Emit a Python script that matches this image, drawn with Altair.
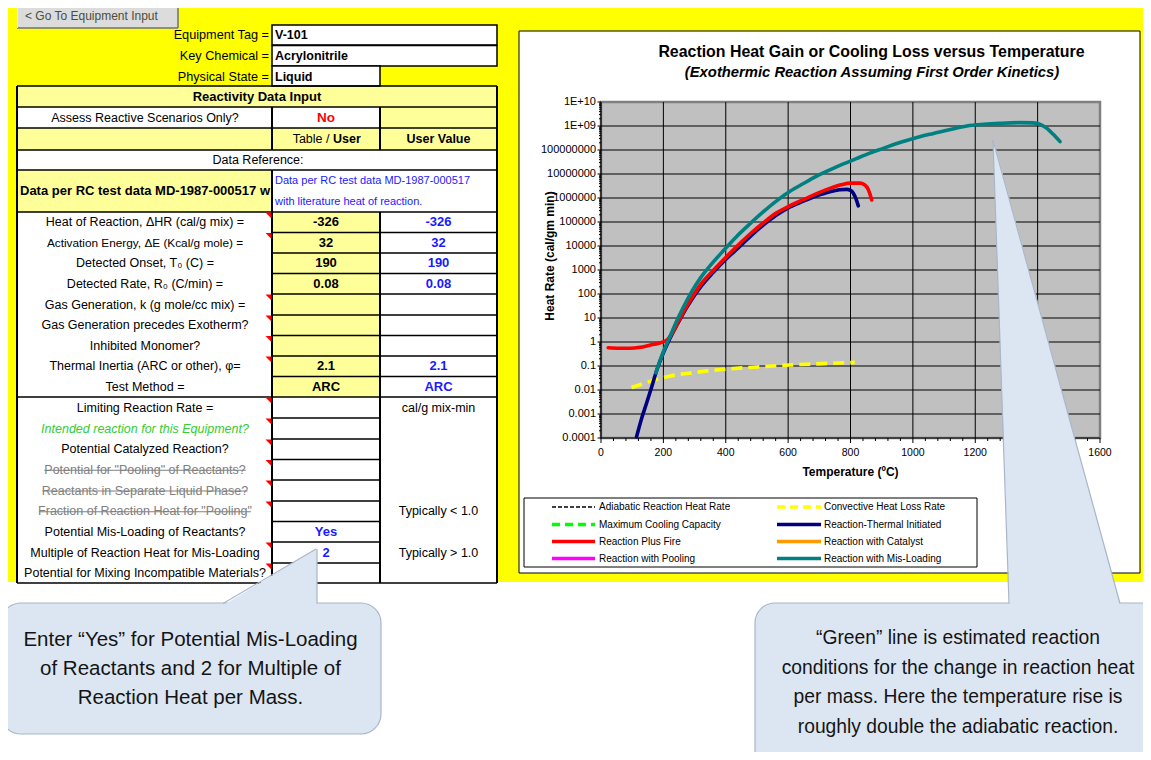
import altair as alt
import pandas as pd

W, H = 1135, 744          # canvas size (page has an 8px margin)
OX, OY = 8, 8
FONT = "Liberation Sans, Arial, Helvetica, sans-serif"

# ------------------------------------------------------------------ chart data
series_names = ["Adiabatic Reaction Heat Rate", "Convective Heat Loss Rate",
                "Maximum Cooling Capacity", "Reaction-Thermal Initiated",
                "Reaction Plus Fire", "Reaction with Catalyst",
                "Reaction with Pooling", "Reaction with Mis-Loading"]

convective_temp = [98, 125, 160, 190, 221, 300, 392, 500, 606, 710, 814]
convective_rate = [0.0126, 0.0166, 0.0234, 0.0302, 0.038, 0.0537, 0.0724, 0.0912, 0.110, 0.126, 0.141]

thermal_temp = [114, 130, 146, 163, 179, 200, 221, 243, 264, 290, 317, 360, 403, 440, 478, 520,
                563, 606, 649, 690, 734, 765, 788, 800, 809, 818, 825]
thermal_rate = [1.12e-4, 6.3e-4, 2.8e-3, 1.41e-2, 6.8e-2, 0.355, 1.41, 5.0, 15.8, 56, 178, 794,
                3020, 8300, 2.45e4, 7.4e4, 1.95e5, 4.27e5, 7.41e5, 1.2e6, 1.82e6, 2.19e6,
                2.29e6, 2.09e6, 1.58e6, 8.9e5, 4.7e5]

fire_temp = [23, 60, 93, 125, 157, 185, 211, 230, 250, 270, 290, 317, 360, 403, 440, 478, 520,
             563, 606, 649, 690, 734, 770, 800, 830, 845, 857, 868]
fire_rate = [0.575, 0.55, 0.55, 0.60, 0.74, 0.89, 1.20, 2.5, 7.9, 24, 66, 224, 955, 3630, 1.1e4,
             3.16e4, 9.1e4, 2.4e5, 4.79e5, 8.51e5, 1.48e6, 2.51e6, 3.55e6, 4.17e6, 4.17e6,
             3.55e6, 2.24e6, 8.3e5]

misload_temp = [176, 190, 205, 221, 243, 264, 290, 317, 350, 392, 435, 478, 520, 563, 606, 649,
                690, 734, 777, 820, 862, 905, 948, 991, 1030, 1066, 1120, 1173, 1226, 1279,
                1343, 1385, 1410, 1430, 1450, 1472]
misload_rate = [0.052, 0.178, 0.56, 1.66, 7.6, 28, 120, 427, 1510, 6300, 2.51e4, 8.5e4, 2.63e5,
                7.59e5, 1.9e6, 4.0e6, 7.9e6, 1.48e7, 2.63e7, 4.47e7, 7.4e7, 1.17e8, 1.86e8,
                2.75e8, 3.8e8, 4.9e8, 7.2e8, 1.0e9, 1.17e9, 1.29e9, 1.38e9, 1.35e9, 1.15e9,
                7.9e8, 4.5e8, 2.24e8]

x_tick_values = [0, 200, 400, 600, 800, 1000, 1200, 1400, 1600]
x_tick_labels = ["0", "200", "400", "600", "800", "1000", "1200", "1400", "1600"]
y_tick_values = [1e10, 1e9, 1e8, 1e7, 1e6, 1e5, 1e4, 1e3, 100, 10, 1, 0.1, 0.01, 0.001, 0.0001]
y_tick_labels = ["1E+10", "1E+09", "100000000", "10000000", "1000000", "100000", "10000",
                 "1000", "100", "10", "1", "0.1", "0.01", "0.001", "0.0001"]

# ------------------------------------------------------------------ sheet text
header_labels = ["Equipment Tag =", "Key Chemical =", "Physical State ="]
header_values = ["V-101", "Acrylonitrile", "Liquid"]
property_labels = ["Heat of Reaction, \u0394HR (cal/g mix) =", "Activation Energy, \u0394E (Kcal/g mole) =",
                   "Detected Onset, T\u2080 (C) =", "Detected Rate, R\u2080 (C/min) =",
                   "Gas Generation, k (g mole/cc mix) =", "Gas Generation precedes Exotherm?",
                   "Inhibited Monomer?", "Thermal Inertia (ARC or other), \u03c6=", "Test Method ="]
table_values = ["-326", "32", "190", "0.08", "", "", "", "2.1", "ARC"]
user_values = ["-326", "32", "190", "0.08", "", "", "", "2.1", "ARC"]
scenario_labels = ["Limiting Reaction Rate =", "Intended reaction for this Equipment?",
                   "Potential Catalyzed Reaction?", "Potential for \"Pooling\" of Reactants?",
                   "Reactants in Separate Liquid Phase?", "Fraction of Reaction Heat for \"Pooling\"",
                   "Potential Mis-Loading of Reactants?", "Multiple of Reaction Heat for Mis-Loading",
                   "Potential for Mixing Incompatible Materials?"]
scenario_values = ["", "", "", "", "", "", "Yes", "2", ""]
scenario_notes = ["cal/g mix-min", "", "", "", "", "Typically < 1.0", "", "Typically > 1.0", ""]
left_callout = ["Enter \u201cYes\u201d for Potential Mis-Loading", "of Reactants and 2 for Multiple of",
                "Reaction Heat per Mass."]
right_callout = ["\u201cGreen\u201d line is estimated reaction", "conditions for the change in reaction heat",
                 "per mass.  Here the temperature rise is", "roughly double the adiabatic reaction."]

# ------------------------------------------------------------------ styles / layout
series_colors = ["#404040", "#FFFF00", "#00FF00", "#000080", "#FF0000", "#FF9900", "#FF00FF", "#008080"]
series_dash = [[4, 2], [8, 5], [8, 5], None, None, None, None, None]
LY = "#FFFF99"
BLUE = "#1a1aff"
C0, C1, C2, C3 = 17, 272, 380, 497
prop_edges = [212, 232.5, 253, 273.5, 294, 315, 335.5, 356, 376.5, 397]
scen_edges = [397, 418, 439, 459.5, 480, 501, 521.5, 542, 563, 583]

# Arial / Liberation Sans advance widths (per 1000 em) for strike-through lengths
_AW = {' ': 278, '"': 355, 'F': 611, 'P': 667, 'R': 722, 'L': 556, '?': 556, 'a': 556, 'b': 556,
       'c': 500, 'd': 556, 'e': 556, 'f': 278, 'g': 556, 'h': 556, 'i': 222, 'l': 222, 'm': 833,
       'n': 556, 'o': 556, 'p': 556, 'q': 556, 'r': 333, 's': 500, 't': 278, 'u': 556, 'v': 500}


def text_width(s, size):
    return sum(_AW.get(ch, 556) for ch in s) * size / 1000.0


def PX():
    return alt.Scale(domain=[OX, OX + W], range=[0, W])


def PY():
    return alt.Scale(domain=[OY, OY + H], range=[0, H])


def X(f, **kw):
    return alt.X(f"{f}:Q", scale=PX(), axis=None, **kw)


def Y(f, **kw):
    return alt.Y(f"{f}:Q", scale=PY(), axis=None, **kw)


def rects(rows, **mk):
    df = pd.DataFrame(rows, columns=["x", "x2", "y", "y2", "f"])
    return alt.Chart(df).mark_rect(**mk).encode(
        x=X("x"), x2="x2:Q", y=Y("y"), y2="y2:Q", fill=alt.Fill("f:N", scale=None))


def rules(rows, **mk):
    df = pd.DataFrame(rows, columns=["x", "x2", "y", "y2", "c", "w"])
    return alt.Chart(df).mark_rule(**mk).encode(
        x=X("x"), x2="x2:Q", y=Y("y"), y2="y2:Q",
        color=alt.Color("c:N", scale=None), strokeWidth=alt.StrokeWidth("w:Q", scale=None))


def texts(rows, align="center", weight="normal", style="normal", angle=0):
    rows = [r for r in rows if r[2] != ""]
    df = pd.DataFrame(rows, columns=["x", "y", "t", "s", "c"])
    return alt.Chart(df).mark_text(align=align, baseline="middle", font=FONT, fontWeight=weight,
                                   fontStyle=style, angle=angle).encode(
        x=X("x"), y=Y("y"), text="t:N", size=alt.Size("s:Q", scale=None),
        color=alt.Color("c:N", scale=None))


def mid(edges, i):
    return (edges[i] + edges[i + 1]) / 2.0


# ------------------------------------------------------------------ background (sheet)
bg = []
bg.append(rects([
    (OX, OX + W, OY, 582, "#FFFF00"),
    (17, 178, OY, 28, "#DCDCDC"),
    (C0, C3, 86, 107, LY),
    (C0, C2, 107, 128, "white"), (C2, C3, 107, 128, LY),
    (C0, C3, 128, 150, LY),
    (C0, C3, 150, 170, "white"),
    (C0, C1, 170, 212, LY), (C1, C3, 170, 212, "white"),
    (C0, C1, 212, 397, "white"), (C1, C2, 212, 397, LY), (C2, C3, 212, 397, "white"),
    (C0, C3, 397, 583, "white"),
]))
bg.append(rects([(C1, C3, 25, 45, "white"), (C1, C3, 45.5, 66, "white"), (C1, C2, 66, 86, "white")],
                stroke="black", strokeWidth=1.5))
bg.append(rects([(519, 1140, 31, 573, "white")], stroke="black", strokeWidth=1))
bg.append(rects([(524, 977, 498, 567, "white")], stroke="black", strokeWidth=1))

line_rows = [(17, 178, 28, 28, "#707070", 1.5), (178, 178, OY, 28, "#707070", 1.5),
             (17.5, 17.5, OY, 28, "white", 1)]
for yy in [86, 107, 128, 150, 170, 212, 397, 583]:
    line_rows.append((C0, C3, yy, yy, "black", 1.5))
for yy in prop_edges[1:-1]:
    line_rows.append((C1, C3, yy, yy, "black", 1.5))
for yy in scen_edges[1:-1]:
    line_rows.append((C1, C2, yy, yy, "black", 1.5))
line_rows += [(C0, C0, 86, 583, "black", 2), (C3, C3, 86, 583, "black", 2),
              (C1, C1, 107, 150, "black", 2), (C1, C1, 170, 583, "black", 2),
              (C2, C2, 107, 150, "black", 2), (C2, C2, 212, 583, "black", 2)]
for i in [3, 4, 5]:
    w = text_width(scenario_labels[i], 12.5)
    yy = mid(scen_edges, i) + 0.5
    line_rows.append((145 - w / 2, 145 + w / 2, yy, yy, "#808080", 1))
bg.append(rules(line_rows))

normal_c, bold_c, normal_l, bold_l, normal_r, italic_c = [], [], [], [], [], []
normal_l.append((25, 16, "< Go To Equipment Input", 12, "#4d4d3a"))
for i, (lab, val) in enumerate(zip(header_labels, header_values)):
    yy = [35, 56, 76.5][i]
    normal_r.append((269, yy, lab, 12.7, "black"))
    bold_l.append((275, yy, val, 12.5, "black"))
bold_c.append(((C0 + C3) / 2, 96.5, "Reactivity Data Input", 13, "black"))
normal_c.append((145, 117.5, "Assess Reactive Scenarios Only?", 12.5, "black"))
bold_c.append(((C1 + C2) / 2, 118, "No", 13.5, "#FF0000"))
normal_r.append((329.5, 139, "Table /", 12.5, "black"))
bold_l.append((333, 139, "User", 12.5, "black"))
bold_c.append(((C2 + C3) / 2, 139, "User Value", 12.5, "black"))
normal_c.append((258, 160, "Data Reference:", 12.5, "black"))
bold_l.append((20, 191, "Data per RC test data MD-1987-000517 w", 13, "black"))
normal_l.append((275, 181, "Data per RC test data MD-1987-000517", 11, BLUE))
normal_l.append((275, 202, "with literature heat of reaction.", 11, BLUE))
for i in range(9):
    yy = mid(prop_edges, i)
    normal_c.append((145, yy, property_labels[i], 11.8 if i == 1 else 12.5, "black"))
    bold_c.append(((C1 + C2) / 2, yy, table_values[i], 13, "black"))
    bold_c.append(((C2 + C3) / 2, yy, user_values[i], 13, BLUE))
for i in range(9):
    yy = mid(scen_edges, i)
    if i == 1:
        italic_c.append((145, yy, scenario_labels[i], 12.5, "#33CC33"))
    elif i in (3, 4, 5):
        normal_c.append((145, yy, scenario_labels[i], 12.5, "#808080"))
    else:
        normal_c.append((145, yy, scenario_labels[i], 12.5, "black"))
    bold_c.append(((C1 + C2) / 2, yy, scenario_values[i], 13, BLUE))
    normal_c.append(((C2 + C3) / 2, yy, scenario_notes[i], 12.5, "black"))

bold_c.append((871.5, 52, "Reaction Heat Gain or Cooling Loss versus Temperature", 15.9, "black"))
bold_c.append((850.5, 472, "Temperature (\u00baC)", 12, "black"))
legend_rows_y = [507, 524.5, 541.5, 558.5]
legend_cols_x = [(552, 595, 599), (777, 821, 824)]
for k, name in enumerate(series_names):
    cx = legend_cols_x[k % 2]
    normal_l.append((cx[2], legend_rows_y[k // 2], name, 10, "black"))

bg.append(texts(normal_c))
bg.append(texts(bold_c, weight="bold"))
bg.append(texts(normal_l, align="left"))
bg.append(texts(bold_l, align="left", weight="bold"))
bg.append(texts(normal_r, align="right"))
bg.append(texts(italic_c, style="italic"))
bg.append(texts([(872, 73, "(Exothermic Reaction Assuming First Order Kinetics)", 14.8, "black")],
                weight="bold", style="italic"))
bg.append(texts([(550, 256, "Heat Rate (cal/gm min)", 12, "black")], weight="bold", angle=270))

marker_tops = [prop_edges[i] for i in [0, 1, 4, 5, 6, 7]] + [scen_edges[i] for i in [0, 1, 2, 3, 4, 5, 7, 8]]
bg.append(alt.Chart(pd.DataFrame({"x": [268.5] * len(marker_tops), "y": [t + 3.5 for t in marker_tops]}))
          .mark_point(shape="M -1 -1 L 1 -1 L 1 1 Z", filled=True, color="#FF0000", size=36, opacity=1)
          .encode(x=X("x"), y=Y("y")))

for k, name in enumerate(series_names):
    cx = legend_cols_x[k % 2]
    yy = legend_rows_y[k // 2]
    mk = dict(strokeWidth=2.2 if k == 0 else 3.5)
    if series_dash[k]:
        mk["strokeDash"] = series_dash[k]
    bg.append(alt.Chart(pd.DataFrame({"x": [cx[0]], "x2": [cx[1]], "y": [yy], "y2": [yy]}))
              .mark_rule(color=series_colors[k], **mk)
              .encode(x=X("x"), x2="x2:Q", y=Y("y"), y2="y2:Q"))

# ------------------------------------------------------------------ the chart itself
def TX(f="T"):
    return alt.X(f"{f}:Q", axis=None,
                 scale=alt.Scale(domain=[0, 1600], range=[593, 1092], nice=False, zero=False))


def RY(f="R"):
    return alt.Y(f"{f}:Q", axis=None,
                 scale=alt.Scale(type="log", domain=[1e-4, 1e10], range=[430, 94], nice=False))


ch = []
ch.append(alt.Chart(pd.DataFrame({"T": [0], "T2": [1600], "R": [1e-4], "R2": [1e10]}))
          .mark_rect(fill="#C0C0C0", stroke="#808080", strokeWidth=2.5)
          .encode(x=TX(), x2="T2:Q", y=RY(), y2="R2:Q"))
gv = x_tick_values[1:-1]
ch.append(alt.Chart(pd.DataFrame({"T": gv, "T2": gv, "R": [1e-4] * len(gv), "R2": [1e10] * len(gv)}))
          .mark_rule(color="black", strokeWidth=1)
          .encode(x=TX(), x2="T2:Q", y=RY(), y2="R2:Q"))
gh = y_tick_values[1:-1]
ch.append(alt.Chart(pd.DataFrame({"R": gh, "R2": gh, "T": [0] * len(gh), "T2": [1600] * len(gh)}))
          .mark_rule(color="black", strokeWidth=1)
          .encode(x=TX(), x2="T2:Q", y=RY(), y2="R2:Q"))
ch.append(alt.Chart(pd.DataFrame({"T": [0, 0], "T2": [0, 1600], "R": [1e-4, 1e-4], "R2": [1e10, 1e-4]}))
          .mark_rule(color="black", strokeWidth=1.2)
          .encode(x=TX(), x2="T2:Q", y=RY(), y2="R2:Q"))
x_minor = [t for t in range(0, 1601, 40) if t % 200]
y_minor = [k * 10.0 ** n for n in range(-4, 10) for k in range(2, 10)]
ch.append(alt.Chart(pd.DataFrame({"T": x_tick_values})).mark_rule(color="black", strokeWidth=1)
          .encode(x=TX(), y=alt.value(430), y2=alt.value(435)))
ch.append(alt.Chart(pd.DataFrame({"T": x_minor})).mark_rule(color="black", strokeWidth=1)
          .encode(x=TX(), y=alt.value(430), y2=alt.value(433)))
ch.append(alt.Chart(pd.DataFrame({"R": y_tick_values})).mark_rule(color="black", strokeWidth=1)
          .encode(y=RY(), x=alt.value(589.5), x2=alt.value(593)))
ch.append(alt.Chart(pd.DataFrame({"R": y_minor})).mark_rule(color="black", strokeWidth=1)
          .encode(y=RY(), x=alt.value(591), x2=alt.value(593)))
ch.append(alt.Chart(pd.DataFrame({"T": x_tick_values, "L": x_tick_labels}))
          .mark_text(font=FONT, fontSize=10.5, baseline="middle", align="center", color="black")
          .encode(x=TX(), y=alt.value(445), text="L:N"))
ch.append(alt.Chart(pd.DataFrame({"R": y_tick_values, "L": y_tick_labels}))
          .mark_text(font=FONT, fontSize=11, baseline="middle", align="right", color="black")
          .encode(y=RY(), x=alt.value(588), text="L:N"))

plotted = [
    (convective_temp, convective_rate, 1),
    (thermal_temp, thermal_rate, 3),
    (fire_temp, fire_rate, 4),
    (misload_temp, misload_rate, 7),
]
for temps, rates, k in plotted:
    assert len(temps) == len(rates)
    df = pd.DataFrame({"T": temps, "R": rates})
    mk = dict(color=series_colors[k], strokeWidth=3.6, interpolate="monotone", strokeCap="round")
    if series_dash[k]:
        mk["strokeDash"] = [11, 6]
        mk["strokeCap"] = "butt"
    ch.append(alt.Chart(df).mark_line(**mk).encode(x=TX(), y=RY()))

# ------------------------------------------------------------------ callouts (foreground)
CALL_FILL, CALL_EDGE = "#DCE6F2", "#A9B6C8"
fg = []
fg.append(rects([(1, 381, 603, 734, CALL_FILL), (755, 1210, 603, 800, CALL_FILL)],
                stroke=CALL_EDGE, strokeWidth=1.2, cornerRadius=20))
fg.append(alt.Chart(pd.DataFrame({"y": [549, 605.5], "x": [315.5, 223], "x2": [317, 317]}))
          .mark_area(orient="horizontal", color=CALL_FILL)
          .encode(y=Y("y"), x=X("x", stack=None), x2="x2:Q"))
fg.append(alt.Chart(pd.DataFrame({"y": [140, 605.5], "x": [993, 1009.5], "x2": [993.5, 1120.5]}))
          .mark_area(orient="horizontal", color=CALL_FILL)
          .encode(y=Y("y"), x=X("x", stack=None), x2="x2:Q"))
fg.append(rules([(316, 223, 549, 603.5, CALL_EDGE, 1.2), (317, 317, 549, 603.5, CALL_EDGE, 1.2),
                 (993, 1009, 140, 603.5, CALL_EDGE, 1.2), (993, 1120, 140, 603.5, CALL_EDGE, 1.2)]))
call_txt = [(190.5, 640 + 29 * i, s, 20.5, "#141414") for i, s in enumerate(left_callout)]
call_txt += [(958, 638 + 29.7 * i, s, 19.3, "#141414") for i, s in enumerate(right_callout)]
fg.append(texts(call_txt))

# ------------------------------------------------------------------ assemble
chart = (alt.layer(*bg, *ch, *fg)
         .resolve_scale(x="independent", y="independent")
         .properties(width=W, height=H, padding=0, autosize=alt.AutoSizeParams(type="none"))
         .configure(background="white")
         .configure_view(stroke=None))

chart.save("out.html", embed_options={"renderer": "svg", "actions": False})
